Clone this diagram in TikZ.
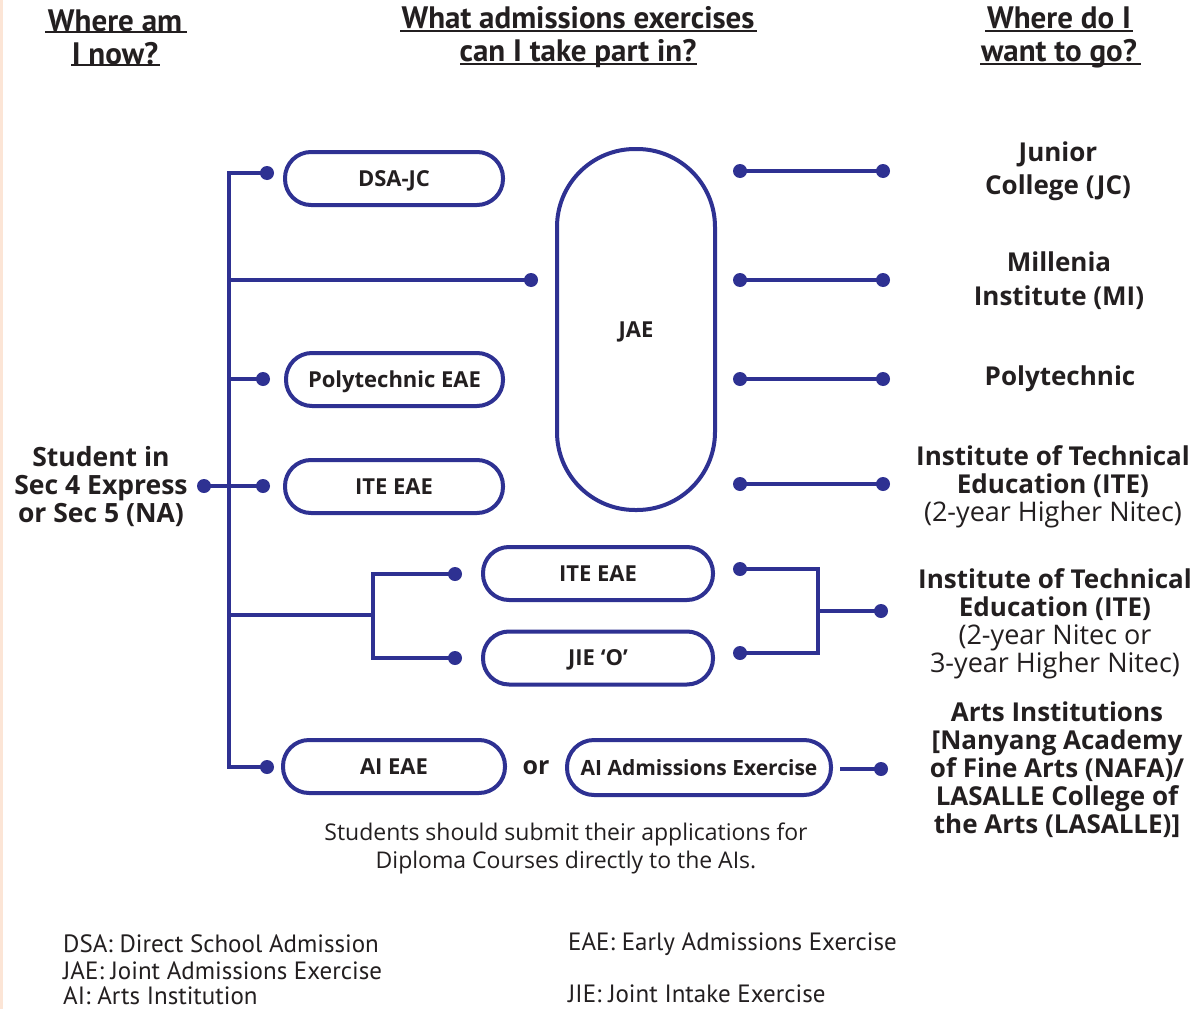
\documentclass[tikz,border=0pt]{standalone}
\usepackage{fontspec}
\setmainfont{Open Sans}
\newfontfamily\condfont{PT Sans}
\definecolor{navy}{RGB}{46,49,146}
\definecolor{ink}{RGB}{35,31,32}
\definecolor{pinkstrip}{RGB}{252,229,214}
\tikzset{
  conn/.style={draw=navy, line width=4pt},
  dotnode/.style={circle, fill=navy, minimum size=14pt, inner sep=0pt},
  pill/.style={draw=navy, line width=4pt, rounded corners=26pt, minimum height=53pt,
     inner sep=0pt, text=ink, text height=15.5pt, text depth=0pt,
     font=\bfseries\fontsize{22}{25}\selectfont},
  dest/.style={align=center, text=ink, font=\bfseries\fontsize{26}{28}\selectfont, inner sep=0pt},
  headtxt/.style={align=center, text=ink, font=\condfont\bfseries\fontsize{31}{33}\selectfont, inner sep=0pt},
  uline/.style={draw=ink, line width=2pt},
  foot/.style={anchor=west, text=ink, font=\condfont\fontsize{25}{28}\selectfont, inner sep=0pt},
}
\newcommand{\lite}{\fontsize{27}{28}\selectfont\mdseries}
\begin{document}
\begin{tikzpicture}[x=1pt,y=-1pt]
\useasboundingbox (0,0) rectangle (1197,1009);
\fill[white] (0,0) rectangle (1197,1009);
\fill[pinkstrip] (0,0) rectangle (3,1009);

% headers
\node[headtxt] (h1) at (115,37.5) {Where am\\I now?};
\node[headtxt] (h2) at (578,37.5) {What admissions exercises\\can I take part in?};
\node[headtxt] (h3) at (1059,37.5) {Where do I\\want to go?};
\draw[uline] (45,32) -- (187,32);
\draw[uline] (71,65) -- (160,65);
\draw[uline] (400,31) -- (757,31);
\draw[uline] (460,64) -- (697,64);
\draw[uline] (985,31) -- (1133,31);
\draw[uline] (980,64) -- (1141,64);

% student
\node[dest, font=\bfseries\fontsize{26.5}{28}\selectfont] (stu) at (101,487) {Student in\\Sec 4 Express\\or Sec 5 (NA)};

% boxes
\node[pill, minimum width=218pt] (dsa) at (394,178.5) {DSA-JC};
\node[pill, minimum width=158pt, minimum height=361pt, rounded corners=78pt] (jae) at (636,329.5) {JAE};
\node[pill, minimum width=217pt] (poly) at (394.5,379.5) {Polytechnic EAE};
\node[pill, minimum width=218pt] (ite1) at (394,486.5) {ITE EAE};
\node[pill, minimum width=230pt] (ite2) at (598,573.5) {ITE EAE};
\node[pill, minimum width=230pt] (jie) at (598,658) {JIE ‘O’};
\node[pill, minimum width=222pt] (aieae) at (394,766.5) {AI EAE};
\node[text=ink, font=\bfseries\fontsize{25}{28}\selectfont, inner sep=0pt, text height=13pt, text depth=0pt] (or) at (536,767.5) {or};
\node[pill, minimum width=264pt, minimum height=55pt, rounded corners=27pt, font=\bfseries\fontsize{21}{25}\selectfont] (aiadm) at (699,767.5) {AI Admissions Exercise};

% dots
\node[dotnode] (dstu) at (204,486) {};
\node[dotnode] (ddsa) at (267,173) {};
\node[dotnode] (djae) at (531,280) {};
\node[dotnode] (dpoly) at (263,379) {};
\node[dotnode] (dite1) at (263,486) {};
\node[dotnode] (dite2) at (455,574) {};
\node[dotnode] (djie) at (455,658) {};
\node[dotnode] (dai) at (267,767) {};
\node[dotnode] (r1a) at (740,171) {};
\node[dotnode] (r1b) at (883,171) {};
\node[dotnode] (r2a) at (740,280) {};
\node[dotnode] (r2b) at (883,280) {};
\node[dotnode] (r3a) at (740,379) {};
\node[dotnode] (r3b) at (883,379) {};
\node[dotnode] (r4a) at (740,484) {};
\node[dotnode] (r4b) at (883,484) {};
\node[dotnode] (r5a) at (740,569) {};
\node[dotnode] (r6a) at (740,653) {};
\node[dotnode] (r56) at (881,611) {};
\node[dotnode] (r7) at (881,769) {};

\coordinate (btop) at (229,173);
\coordinate (bbot) at (229,767);
\coordinate (bjae) at (229,280);
\coordinate (bpoly) at (229,379);
\coordinate (bsplit) at (229,615);
\coordinate (sp) at (373,615);
\coordinate (rj) at (818,611);
\coordinate (aie) at (840,769);

% left bracket
\draw[conn] (ddsa.center) -- (btop) -- (bbot) -- (dai.center);
\draw[conn] (bjae) -- (djae.center);
\draw[conn] (bpoly) -- (dpoly.center);
\draw[conn] (dstu.center) -- (dite1.center);
\draw[conn] (bsplit) -- (sp);
\draw[conn] (dite2.center) -| (sp) |- (djie.center);

% right connectors
\draw[conn] (r1a.center) -- (r1b.center);
\draw[conn] (r2a.center) -- (r2b.center);
\draw[conn] (r3a.center) -- (r3b.center);
\draw[conn] (r4a.center) -- (r4b.center);
\draw[conn] (r5a.center) -| (rj) |- (r6a.center);
\draw[conn] (rj) -- (r56.center);
\draw[conn] (aie) -- (r7.center);

% destinations
\node[dest] (jc) at (1058,171) {Junior\\[5pt]College (JC)};
\node[dest] (mi) at (1059,281) {Millenia\\[6pt]Institute (MI)};
\node[dest] (pt) at (1060,379) {Polytechnic};
\node[dest] (ite) at (1053,487) {Institute of Technical\\Education (ITE)\\\lite(2-year Higher Nitec)};
\node[dest] (itex) at (1055,623.5) {Institute of Technical\\Education (ITE)\\\lite(2-year Nitec or\\\lite3-year Higher Nitec)};
\node[dest] (arts) at (1057,770) {Arts Institutions\\{[}Nanyang Academy\\of Fine Arts (NAFA)/\\LASALLE College of\\the Arts (LASALLE)]};

% note
\node[align=center, text=ink, font=\fontsize{23}{28}\selectfont, inner sep=0pt] (note) at (566,848) {Students should submit their applications for\\Diploma Courses directly to the AIs.};

% footnotes
\node[foot] (f1) at (63,944) {DSA: Direct School Admission};
\node[foot] (f2) at (63,971) {JAE: Joint Admissions Exercise};
\node[foot] (f3) at (63,996) {AI: Arts Institution};
\node[foot] (f4) at (568,944) {EAE: Early Admissions Exercise};
\node[foot] (f5) at (568,994) {JIE: Joint Intake Exercise};
\end{tikzpicture}
\end{document}
